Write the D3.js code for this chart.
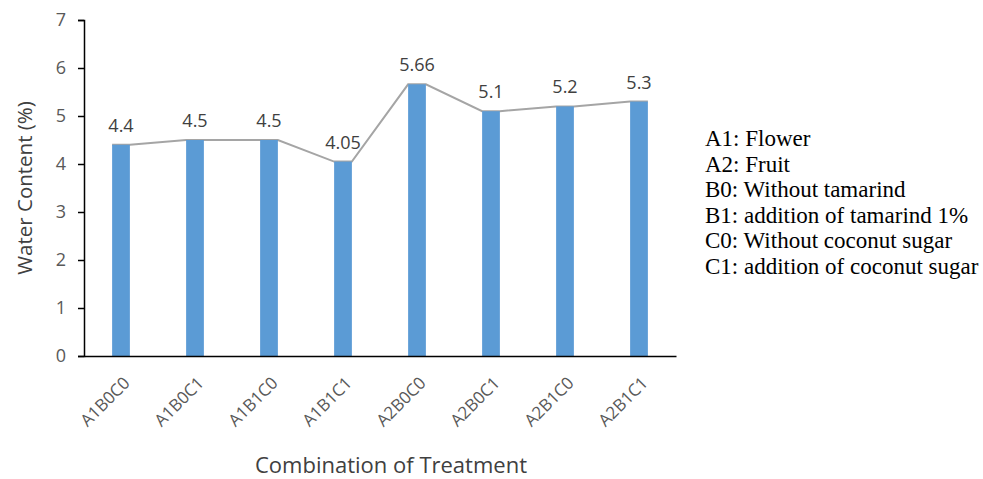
<!DOCTYPE html>
<html>
<head>
<meta charset="utf-8">
<script src="https://cdn.jsdelivr.net/npm/d3@7"></script>
<style>
  body { margin: 0; background: #fff; }
</style>
</head>
<body>
<div id="chart"></div>
<script>
const categories = ['A1B0C0', 'A1B0C1', 'A1B1C0', 'A1B1C1', 'A2B0C0', 'A2B0C1', 'A2B1C0', 'A2B1C1'];
const values = [4.4, 4.5, 4.5, 4.05, 5.66, 5.1, 5.2, 5.3];
const yTicks = [0, 1, 2, 3, 4, 5, 6, 7];
const legendLines = [
    'A1: Flower',
    'A2: Fruit',
    'B0: Without tamarind',
    'B1: addition of tamarind 1%',
    'C0: Without coconut sugar',
    'C1: addition of coconut sugar'
];

let width = 983;
let height = 479;
let svg = d3.select('#chart')
    .append('svg')
    .attr('width', width)
    .attr('height', height);

// zone du graphique
let plotLeft = 84, plotRight = 676, plotTop = 20, plotBottom = 356;

let x = d3.scaleBand()
    .domain(categories)
    .range([plotLeft, plotRight])
    .paddingInner(0.76)
    .paddingOuter(0.38);

let y = d3.scaleLinear()
    .domain([0, 7])
    .range([plotBottom, plotTop]);

// ligne grise entre les sommets des barres (dessinée avant les barres)
let pts = [];
values.forEach((d, i) => {
    pts.push([x(categories[i]), y(d)]);
    pts.push([x(categories[i]) + x.bandwidth(), y(d)]);
});
svg.append('path')
    .attr('d', d3.line()(pts))
    .attr('fill', 'none')
    .attr('stroke', '#a5a5a5')
    .attr('stroke-width', 2);

// barres
svg.selectAll('rect.bar')
    .data(values)
    .enter()
    .append('rect')
    .attr('class', 'bar')
    .attr('x', (d, i) => x(categories[i]))
    .attr('y', d => y(d))
    .attr('width', x.bandwidth())
    .attr('height', d => y(0) - y(d))
    .attr('fill', '#5b9bd5');

// étiquettes des valeurs
svg.selectAll('text.val')
    .data(values)
    .enter()
    .append('text')
    .attr('class', 'val')
    .attr('x', (d, i) => x(categories[i]) + x.bandwidth() / 2)
    .attr('y', d => y(d) - 13)
    .attr('text-anchor', 'middle')
    .attr('font-family', 'Open Sans, sans-serif')
    .attr('font-size', 18)
    .attr('fill', '#404040')
    .text(d => d);

// axe y
let yAxis = svg.append('g')
    .attr('transform', `translate(${plotLeft},0)`)
    .call(d3.axisLeft(y).tickValues(yTicks).tickSize(6).tickPadding(12).tickFormat(d3.format('d')));
yAxis.select('.domain').attr('stroke', '#000').attr('stroke-width', 1.5);
yAxis.selectAll('.tick line').attr('stroke', '#000').attr('stroke-width', 1.5);
yAxis.selectAll('.tick text')
    .attr('font-family', 'Open Sans, sans-serif')
    .attr('font-size', 18)
    .attr('fill', '#595959');

// axe x
let xAxis = svg.append('g')
    .attr('transform', `translate(0,${plotBottom})`)
    .call(d3.axisBottom(x).tickSize(0).tickPadding(0));
xAxis.select('.domain').attr('stroke', '#000').attr('stroke-width', 1.5);
xAxis.selectAll('.tick text')
    .attr('font-family', 'Open Sans, sans-serif')
    .attr('font-size', 17)
    .attr('fill', '#595959')
    .attr('text-anchor', 'end')
    .attr('dy', 0)
    .attr('transform', 'translate(10,28) rotate(-45)');

// titres des axes
svg.append('text')
    .attr('transform', `translate(32,188) rotate(-90)`)
    .attr('text-anchor', 'middle')
    .attr('font-family', 'Open Sans, sans-serif')
    .attr('font-size', 20.5)
    .attr('fill', '#404040')
    .text('Water Content (%)');

svg.append('text')
    .attr('x', 391)
    .attr('y', 473)
    .attr('text-anchor', 'middle')
    .attr('font-family', 'Open Sans, sans-serif')
    .attr('font-size', 22)
    .attr('fill', '#404040')
    .text('Combination of Treatment');

// bloc de légende
svg.selectAll('text.leg')
    .data(legendLines)
    .enter()
    .append('text')
    .attr('class', 'leg')
    .attr('x', 705)
    .attr('y', (d, i) => 146 + i * 25.6)
    .attr('font-family', 'Liberation Serif, serif')
    .attr('font-size', 23)
    .attr('fill', '#000')
    .text(d => d);
</script>
</body>
</html>
